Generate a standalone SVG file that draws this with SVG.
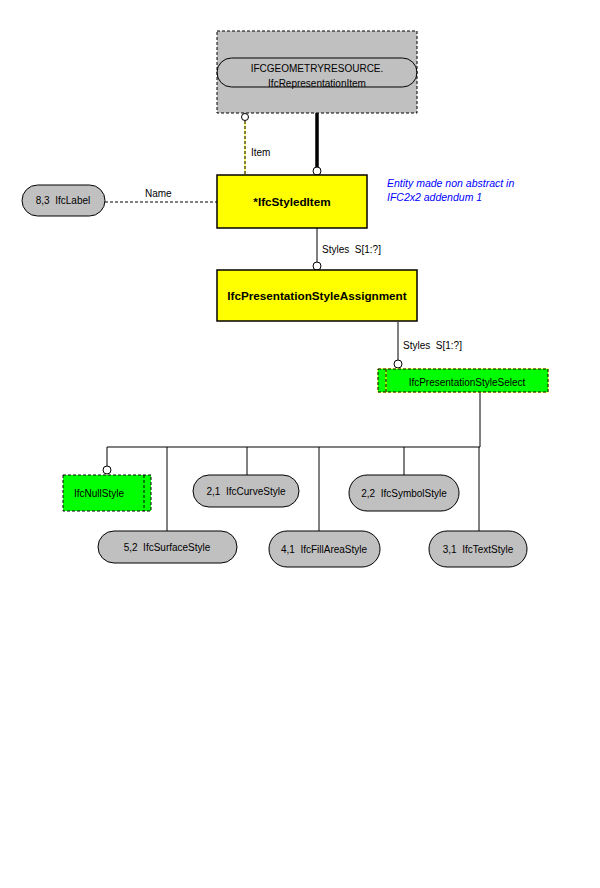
<svg xmlns="http://www.w3.org/2000/svg" width="600" height="888" viewBox="0 0 600 888" xml:space="preserve">
<style>
.t{font-family:"Liberation Sans",Arial,sans-serif;font-size:10px;fill:#000;white-space:pre}
.b{font-family:"Liberation Sans",Arial,sans-serif;font-size:11.7px;font-weight:bold;fill:#000}
.pill{fill:#c0c0c0;stroke:#000;stroke-width:1}
.ent{fill:#ffff00;stroke:#000;stroke-width:1.5}
.sel{fill:#00ff00;stroke:#000;stroke-width:1;stroke-dasharray:3,2}
.ln{stroke:#000;stroke-width:1;fill:none}
.dl{stroke:#000;stroke-width:1;fill:none;stroke-dasharray:3,2}
.c{fill:#fff;stroke:#000;stroke-width:1}
</style>
<rect width="600" height="888" fill="#fff"/>
<g id="connectors">
<line x1="245" y1="121" x2="245" y2="175" stroke="#ffff00" stroke-width="1"/>
<line class="dl" x1="245" y1="121" x2="245" y2="175"/>
<circle class="c" cx="245" cy="117" r="3.5"/>
<line x1="317" y1="113" x2="317" y2="167" stroke="#000" stroke-width="3.5"/>
<circle class="c" cx="317" cy="171" r="4"/>
<line class="dl" x1="105" y1="202" x2="217" y2="202"/>
<line class="ln" x1="317" y1="228" x2="317" y2="262"/>
<circle class="c" cx="317" cy="266" r="4"/>
<line class="ln" x1="398" y1="322" x2="398" y2="360"/>
<circle class="c" cx="398" cy="364" r="4"/>
<line class="ln" x1="480" y1="392" x2="480" y2="447"/>
<line class="ln" x1="107" y1="447" x2="480" y2="447"/>
<line class="ln" x1="107" y1="447" x2="107" y2="466"/>
<circle class="c" cx="107" cy="470" r="4"/>
<line class="ln" x1="167" y1="447" x2="167" y2="531"/>
<line class="ln" x1="247" y1="447" x2="247" y2="475"/>
<line class="ln" x1="319" y1="447" x2="319" y2="531"/>
<line class="ln" x1="404" y1="447" x2="404" y2="475"/>
<line class="ln" x1="479" y1="447" x2="479" y2="531"/>
<text class="t" x="251" y="156">Item</text>
<text class="t" x="145" y="197">Name</text>
<text class="t" x="322" y="253">Styles  S[1:?]</text>
<text class="t" x="403" y="349">Styles  S[1:?]</text>
</g>
<g id="IfcGeometryResource">
<rect x="217" y="31" width="200" height="82" fill="#c0c0c0" stroke="#000" stroke-dasharray="3,2"/>
<rect x="217" y="58" width="200" height="29" rx="14.5" fill="none" stroke="#000"/>
<text class="t" x="317" y="72" text-anchor="middle">IFCGEOMETRYRESOURCE.</text>
<text class="t" x="317" y="87" text-anchor="middle" font-size="9">IfcRepresentationItem</text>
</g>
<g id="IfcStyledItem">
<rect class="ent" x="217" y="175" width="150" height="53"/>
<text class="b" x="292" y="206" text-anchor="middle">*IfcStyledItem</text>
</g>
<g id="note">
<text x="387" y="187" font-family="Liberation Sans,Arial,sans-serif" font-size="10.5" font-style="italic" fill="#0000ff">Entity made non abstract in</text>
<text x="387" y="201" font-family="Liberation Sans,Arial,sans-serif" font-size="10.5" font-style="italic" fill="#0000ff">IFC2x2 addendum 1</text>
</g>
<g id="IfcLabel">
<rect class="pill" x="22" y="185" width="83" height="31" rx="15.5"/>
<text class="t" x="63" y="204" text-anchor="middle">8,3  IfcLabel</text>
</g>
<g id="IfcPresentationStyleAssignment">
<rect class="ent" x="217" y="270" width="200" height="51"/>
<text class="b" x="317" y="300" text-anchor="middle">IfcPresentationStyleAssignment</text>
</g>
<g id="IfcPresentationStyleSelect">
<rect x="378" y="369" width="170" height="23" fill="#00ff00" stroke="#ffff00"/>
<rect class="sel" x="378" y="369" width="170" height="23"/>
<line x1="386" y1="369" x2="386" y2="392" stroke="#ffff00"/>
<line class="dl" x1="386" y1="369" x2="386" y2="392"/>
<text class="t" x="467" y="386" text-anchor="middle" font-size="10.5">IfcPresentationStyleSelect</text>
</g>
<g id="IfcNullStyle">
<rect class="sel" x="63" y="475" width="88" height="36"/>
<line class="dl" x1="144" y1="475" x2="144" y2="511"/>
<text class="t" x="99" y="497" text-anchor="middle" font-size="10.5">IfcNullStyle</text>
</g>
<g id="IfcCurveStyle">
<rect class="pill" x="193" y="475" width="106" height="32" rx="16"/>
<text class="t" x="246" y="495" text-anchor="middle">2,1  IfcCurveStyle</text>
</g>
<g id="IfcSymbolStyle">
<rect class="pill" x="349" y="475" width="110" height="36" rx="18"/>
<text class="t" x="404" y="497" text-anchor="middle">2,2  IfcSymbolStyle</text>
</g>
<g id="IfcSurfaceStyle">
<rect class="pill" x="98" y="531" width="139" height="32" rx="16"/>
<text class="t" x="167" y="551" text-anchor="middle">5,2  IfcSurfaceStyle</text>
</g>
<g id="IfcFillAreaStyle">
<rect class="pill" x="269" y="531" width="111" height="36" rx="18"/>
<text class="t" x="324" y="553" text-anchor="middle">4,1  IfcFillAreaStyle</text>
</g>
<g id="IfcTextStyle">
<rect class="pill" x="429" y="531" width="98" height="36" rx="18"/>
<text class="t" x="478" y="553" text-anchor="middle">3,1  IfcTextStyle</text>
</g>
</svg>
